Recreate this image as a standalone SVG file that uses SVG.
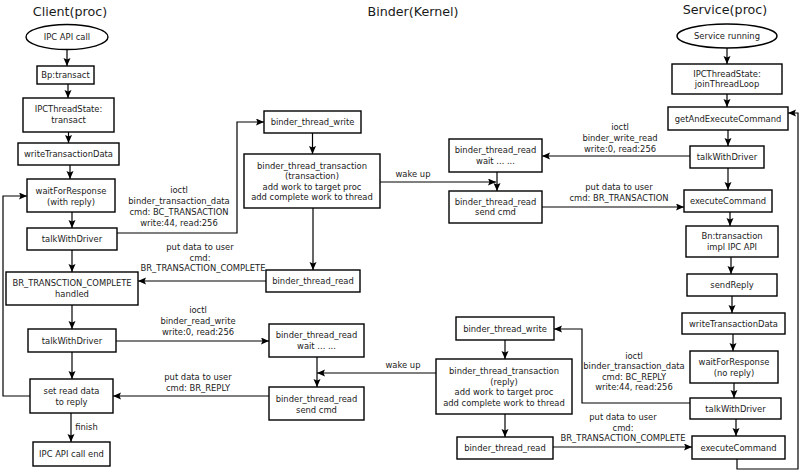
<svg xmlns="http://www.w3.org/2000/svg" width="800" height="471" viewBox="0 0 800 471">
<style>
  .box { fill: #fff; stroke: #000; stroke-width: 1.4; }
  .t { font-family: "DejaVu Sans", "Liberation Sans", sans-serif; font-size: 8.4px; fill: #1a1a1a; text-anchor: middle; }
  .lbl { font-family: "DejaVu Sans", "Liberation Sans", sans-serif; font-size: 8.4px; fill: #1a1a1a; text-anchor: middle; }
  .title { font-family: "DejaVu Sans", "Liberation Sans", sans-serif; font-size: 12.7px; fill: #1a1a1a; text-anchor: middle; }
  .c { fill: none; stroke: #000; stroke-width: 1.2; marker-end: url(#arr); }
</style>
<defs>
  <marker id="arr" markerUnits="userSpaceOnUse" markerWidth="9" markerHeight="8" refX="8" refY="3.5" orient="auto">
    <path d="M0,0 L8,3.5 L0,7 L1.5,3.5 z" fill="#000"/>
  </marker>
</defs>
<rect width="800" height="471" fill="#fff"/>

<text class="title" x="70" y="16">Client(proc)</text>
<text class="title" x="413" y="16">Binder(Kernel)</text>
<text class="title" x="725" y="14">Service(proc)</text>

<g id="connectors">
  <!-- client column -->
  <path class="c" d="M67,49.5 V66"/>
  <path class="c" d="M68,84 V98"/>
  <path class="c" d="M68.5,132 V143"/>
  <path class="c" d="M70,165 V179"/>
  <path class="c" d="M72,212 V228"/>
  <path class="c" d="M72,250 V272"/>
  <path class="c" d="M72,305 V329"/>
  <path class="c" d="M72,352 V379"/>
  <path class="c" d="M71,413 V442"/>
  <path class="c" d="M30,396 H3 V196 H27"/>
  <!-- client <-> kernel -->
  <path class="c" d="M117,233 H237 V122 H264"/>
  <path class="c" d="M312.5,133 V154"/>
  <path class="c" d="M313,208 V270"/>
  <path class="c" d="M266,281 H138"/>
  <path class="c" d="M116,341 H269"/>
  <path class="c" d="M317,357 V387"/>
  <path class="c" d="M436,373 H317"/>
  <path class="c" d="M269,396 H113"/>
  <!-- kernel <-> service (top) -->
  <path class="c" d="M497,172 V191"/>
  <path class="c" d="M380,182 H496"/>
  <path class="c" d="M690,156 H542"/>
  <path class="c" d="M542,207 H684"/>
  <!-- service column -->
  <path class="c" d="M727,48 V64"/>
  <path class="c" d="M727,94 V107"/>
  <path class="c" d="M728,130 V146"/>
  <path class="c" d="M728,168 V190"/>
  <path class="c" d="M730,212 V226"/>
  <path class="c" d="M731,257 V274"/>
  <path class="c" d="M732,296 V313"/>
  <path class="c" d="M733,334 V351"/>
  <path class="c" d="M734,383 V398"/>
  <path class="c" d="M736,419 V436"/>
  <path class="c" d="M737,459 V469 H798 V113 H788"/>
  <!-- service <-> kernel (bottom) -->
  <path class="c" d="M505,340 V359"/>
  <path class="c" d="M505,414 V437"/>
  <path class="c" d="M553,447 H692"/>
  <path class="c" d="M690,403 H582 V329 H554"/>

  <!-- connector labels -->
  <text class="lbl" x="179"><tspan x="179" y="193">ioctl</tspan><tspan x="179" y="204">binder_transaction_data</tspan><tspan x="179" y="215">cmd: BC_TRANSACTION</tspan><tspan x="179" y="226">write:44, read:256</tspan></text>
  <text class="lbl" x="202"><tspan x="200" y="250">put data to user</tspan><tspan x="200" y="260.5">cmd:</tspan><tspan x="203" y="271">BR_TRANSACTION_COMPLETE</tspan></text>
  <text class="lbl" x="198"><tspan x="198" y="313">ioctl</tspan><tspan x="198" y="324">binder_read_write</tspan><tspan x="198" y="334.5">write:0, read:256</tspan></text>
  <text class="lbl" x="403" y="368">wake up</text>
  <text class="lbl" x="198"><tspan x="198" y="380">put data to user</tspan><tspan x="198" y="391">cmd: BR_REPLY</tspan></text>
  <text class="lbl" x="413" y="177">wake up</text>
  <text class="lbl" x="620"><tspan x="620" y="130">ioctl</tspan><tspan x="620" y="141">binder_write_read</tspan><tspan x="620" y="151.5">write:0, read:256</tspan></text>
  <text class="lbl" x="619"><tspan x="619" y="190">put data to user</tspan><tspan x="619" y="200.5">cmd: BR_TRANSACTION</tspan></text>
  <text class="lbl" x="634"><tspan x="634" y="358.5">ioctl</tspan><tspan x="634" y="369">binder_transaction_data</tspan><tspan x="634" y="379.5">cmd: BC_REPLY</tspan><tspan x="634" y="390">write:44, read:256</tspan></text>
  <text class="lbl" x="623"><tspan x="623" y="420">put data to user</tspan><tspan x="623" y="430.5">cmd:</tspan><tspan x="623" y="441">BR_TRANSACTION_COMPLETE</tspan></text>
  <text class="lbl" x="86.5" y="430">finish</text>
</g>

<!-- Client nodes -->
<g id="c_ipc_call"><ellipse class="box" cx="67" cy="37" rx="41" ry="12.5"/><text class="t" x="67" y="40">IPC API call</text></g>
<g id="c_bp_transact"><rect class="box" x="37" y="66" width="57" height="18"/><text class="t" x="65.5" y="78">Bp:transact</text></g>
<g id="c_ipcthread_transact"><rect class="box" x="23" y="98" width="91" height="34"/><text class="t"><tspan x="68.5" y="112">IPCThreadState:</tspan><tspan x="68.5" y="123">transact</tspan></text></g>
<g id="c_write_tx"><rect class="box" x="18" y="143" width="101" height="22"/><text class="t" x="68.5" y="157">writeTransactionData</text></g>
<g id="c_wait_resp"><rect class="box" x="27" y="179" width="88" height="33"/><text class="t"><tspan x="71" y="194">waitForResponse</tspan><tspan x="71" y="205">(with reply)</tspan></text></g>
<g id="c_talk1"><rect class="box" x="27" y="228" width="90" height="22"/><text class="t" x="72" y="242">talkWithDriver</text></g>
<g id="c_br_complete"><rect class="box" x="6" y="272" width="132" height="33"/><text class="t"><tspan x="72" y="286">BR_TRANSCTION_COMPLETE</tspan><tspan x="72" y="296.5">handled</tspan></text></g>
<g id="c_talk2"><rect class="box" x="28" y="329" width="88" height="23"/><text class="t" x="72" y="343.5">talkWithDriver</text></g>
<g id="c_set_read"><rect class="box" x="30" y="379" width="83" height="34"/><text class="t"><tspan x="71.5" y="394">set read data</tspan><tspan x="71.5" y="405">to reply</tspan></text></g>
<g id="c_call_end"><rect class="box" x="33" y="442" width="77" height="24"/><text class="t" x="71.5" y="457">IPC API call end</text></g>

<!-- Binder kernel nodes -->
<g id="k_write1"><rect class="box" x="264" y="111" width="97" height="22"/><text class="t" x="312.5" y="125">binder_thread_write</text></g>
<g id="k_tx1"><rect class="box" x="244" y="154" width="136" height="54"/><text class="t"><tspan x="312" y="168.5">binder_thread_transaction</tspan><tspan x="312" y="179">(transaction)</tspan><tspan x="312" y="189.5">add work to target proc</tspan><tspan x="312" y="200">add complete work to thread</tspan></text></g>
<g id="k_read1"><rect class="box" x="266" y="270" width="94" height="22"/><text class="t" x="313" y="284">binder_thread_read</text></g>
<g id="k_read_wait2"><rect class="box" x="269" y="324" width="95" height="33"/><text class="t"><tspan x="316.5" y="338">binder_thread_read</tspan><tspan x="316.5" y="349">wait ... ...</tspan></text></g>
<g id="k_read_send2"><rect class="box" x="269" y="387" width="95" height="33"/><text class="t"><tspan x="316.5" y="401.5">binder_thread_read</tspan><tspan x="316.5" y="412.5">send cmd</tspan></text></g>
<g id="k_read_wait1"><rect class="box" x="449" y="139" width="93" height="33"/><text class="t"><tspan x="495.5" y="153">binder_thread_read</tspan><tspan x="495.5" y="164">wait ... ...</tspan></text></g>
<g id="k_read_send1"><rect class="box" x="449" y="191" width="93" height="32"/><text class="t"><tspan x="495.5" y="205">binder_thread_read</tspan><tspan x="495.5" y="215">send cmd</tspan></text></g>
<g id="k_write2"><rect class="box" x="456" y="317" width="98" height="23"/><text class="t" x="505" y="331.5">binder_thread_write</text></g>
<g id="k_tx2"><rect class="box" x="436" y="359" width="136" height="55"/><text class="t"><tspan x="504" y="374">binder_thread_transaction</tspan><tspan x="504" y="384.5">(reply)</tspan><tspan x="504" y="395">add work to target proc</tspan><tspan x="504" y="405.5">add complete work to thread</tspan></text></g>
<g id="k_read2"><rect class="box" x="457" y="437" width="96" height="22"/><text class="t" x="505" y="451">binder_thread_read</text></g>

<!-- Service nodes -->
<g id="s_running"><ellipse class="box" cx="727" cy="36" rx="50" ry="12"/><text class="t" x="727" y="39">Service running</text></g>
<g id="s_join"><rect class="box" x="672" y="64" width="110" height="30"/><text class="t"><tspan x="727" y="76.5">IPCThreadState:</tspan><tspan x="727" y="87">joinThreadLoop</tspan></text></g>
<g id="s_get_exec"><rect class="box" x="668" y="107" width="120" height="23"/><text class="t" x="728" y="121.5">getAndExecuteCommand</text></g>
<g id="s_talk1"><rect class="box" x="690" y="146" width="74" height="22"/><text class="t" x="727" y="160">talkWithDriver</text></g>
<g id="s_exec1"><rect class="box" x="684" y="190" width="88" height="22"/><text class="t" x="728" y="204">executeCommand</text></g>
<g id="s_bn"><rect class="box" x="686" y="226" width="92" height="31"/><text class="t"><tspan x="732" y="239">Bn:transaction</tspan><tspan x="732" y="250">impl IPC API</tspan></text></g>
<g id="s_send_reply"><rect class="box" x="687" y="274" width="90" height="22"/><text class="t" x="732" y="288">sendReply</text></g>
<g id="s_write_tx"><rect class="box" x="682" y="313" width="103" height="21"/><text class="t" x="733.5" y="326.5">writeTransactionData</text></g>
<g id="s_wait_resp"><rect class="box" x="690" y="351" width="88" height="32"/><text class="t"><tspan x="734" y="364.5">waitForResponse</tspan><tspan x="734" y="375.5">(no reply)</tspan></text></g>
<g id="s_talk2"><rect class="box" x="690" y="398" width="91" height="21"/><text class="t" x="735.5" y="411.5">talkWithDriver</text></g>
<g id="s_exec2"><rect class="box" x="692" y="436" width="93" height="23"/><text class="t" x="738.5" y="450.5">executeCommand</text></g>
</svg>
